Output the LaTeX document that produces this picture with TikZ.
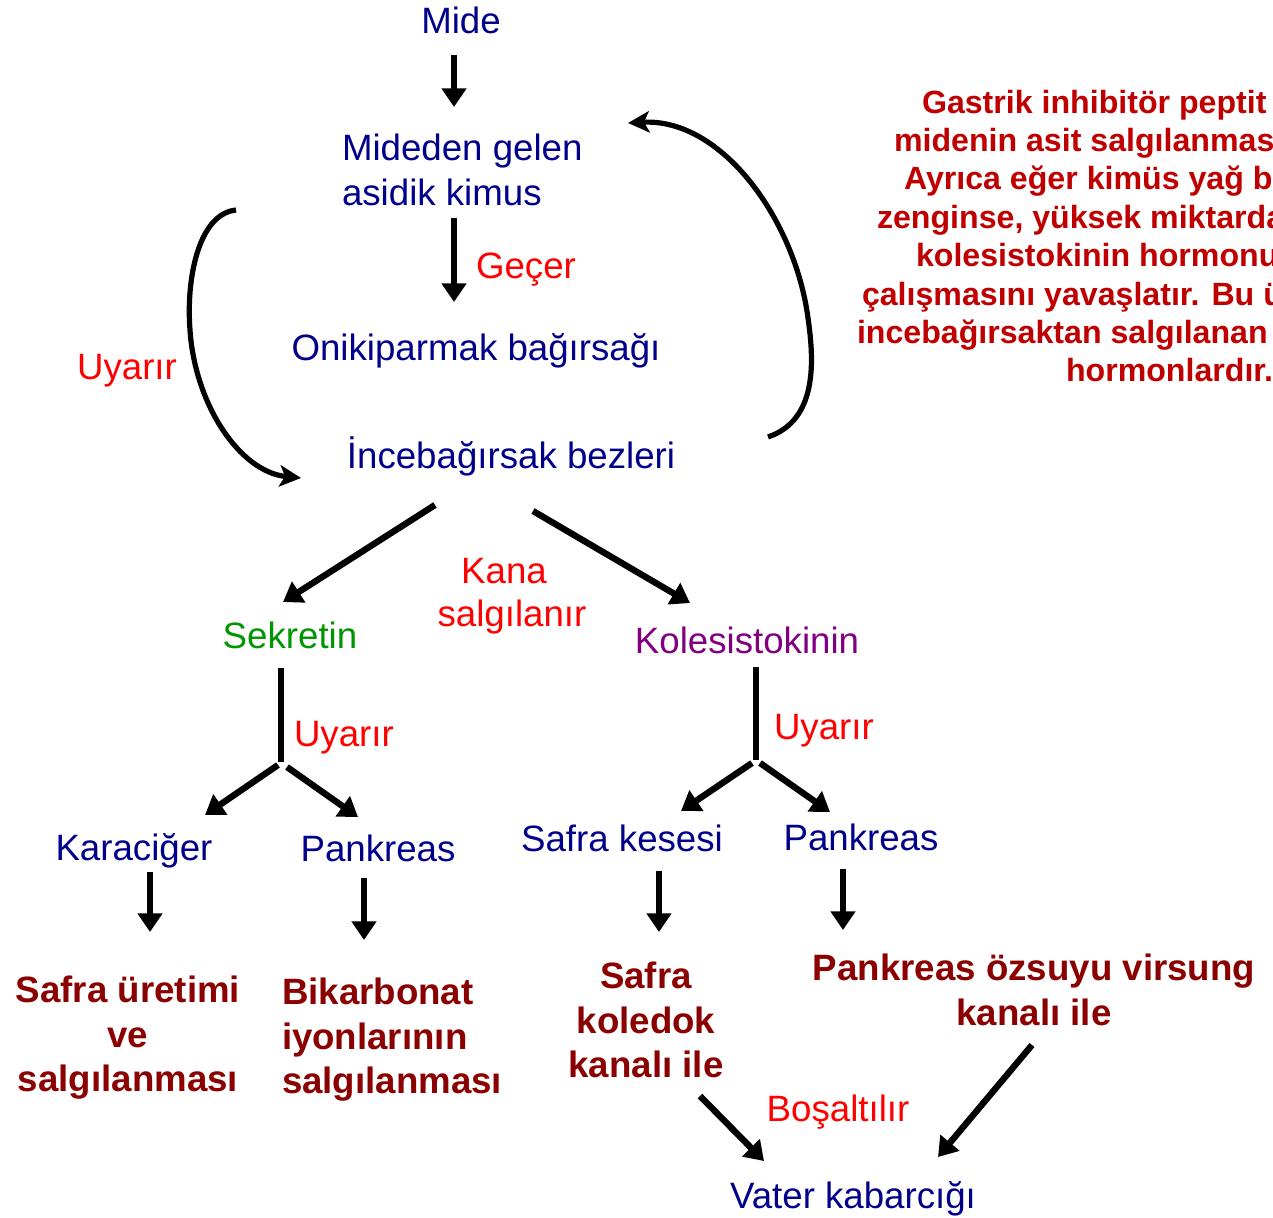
\documentclass[tikz,border=0pt]{standalone}
\usepackage{fontspec}
\setmainfont{Liberation Sans}
\usetikzlibrary{arrows.meta}
\definecolor{navy}{RGB}{0,0,139}
\definecolor{lblred}{RGB}{255,0,0}
\definecolor{dred}{RGB}{139,0,0}
\definecolor{blockred}{RGB}{192,0,0}
\definecolor{sgreen}{RGB}{0,150,0}
\definecolor{kpurple}{RGB}{128,0,128}
\begin{document}
\begin{tikzpicture}[x=0.75pt,y=-0.75pt,
 every node/.style={inner sep=0pt, outer sep=0pt},
 bl/.style={text=navy, font=\fontsize{27.5}{33.75}\selectfont},
 lbl/.style={text=lblred, font=\fontsize{27.5}{32.5}\selectfont},
 res/.style={text=dred, font=\bfseries\fontsize{27.5}{33.5}\selectfont, align=center},
 blk/.style={text=blockred, font=\bfseries\fontsize{24.1}{28}\selectfont, anchor=base west},
 arr/.style={line width=4.8pt, -{Triangle[length=14pt,width=18pt]}},
 curv/.style={line width=3.9pt, -{Stealth[length=16pt,width=16pt,inset=4pt]}},
]
\useasboundingbox (0,0) rectangle (1273,1217);
\clip (0,0) rectangle (1273,1217);

% main nodes
\node[bl, anchor=base] (mide) at (461,33) {Mide};
\node[bl, anchor=north west, align=left] (mideden) at (342,134) {Mideden gelen\\asidik kimus};
\node[lbl, anchor=base west] (gecer) at (476,278) {Geçer};
\node[bl, anchor=base] (oniki) at (476,360) {Onikiparmak bağırsağı};
\node[bl, anchor=base] (ince) at (511,468) {İncebağırsak bezleri};
\node[lbl, anchor=base] (uyarir0) at (127,379) {Uyarır};
\node[lbl, anchor=north, align=center] (kana) at (512,558) {Kana\hspace*{12pt}\\salgılanır};
\node[text=sgreen, font=\fontsize{27.5}{33}\selectfont, anchor=base] (sekretin) at (290,648) {Sekretin};
\node[text=kpurple, font=\fontsize{27.5}{33}\selectfont, anchor=base] (koles) at (747,653) {Kolesistokinin};
\node[lbl, anchor=base west] (uyarir1) at (294,746) {Uyarır};
\node[lbl, anchor=base west] (uyarir2) at (774,739) {Uyarır};
\node[bl, anchor=base] (karaciger) at (134,860) {Karaciğer};
\node[bl, anchor=base] (pank1) at (378,861) {Pankreas};
\node[bl, anchor=base] (kesesi) at (622,851) {Safra kesesi};
\node[bl, anchor=base] (pank2) at (861,850) {Pankreas};
\node[res, anchor=north] (uretim) at (128,976) {Safra üretimi\\ve\\salgılanması};
\node[res, anchor=north west, align=left] (bikarb) at (282,978) {Bikarbonat\\iyonlarının\\salgılanması};
\node[res, anchor=north] (koledok) at (646,962) {Safra\\koledok\\kanalı ile};
\node[res, anchor=north] (ozsuyu) at (1034,954) {Pankreas özsuyu virsung\\kanalı ile};
\node[lbl, anchor=base] (bosalt) at (838,1121) {Boşaltılır};
\node[bl, anchor=base] (vater) at (853,1208) {Vater kabarcığı};

% right text block (cut by the picture edge, as in the reference)
\node[blk] (b1) at (922,113) {Gastrik inhibitör peptit};
\node[blk] (b2) at (894,151.4) {midenin asit salgılanmasını};
\node[blk] (b3) at (904,189.8) {Ayrıca eğer kimüs yağ bakımından};
\node[blk] (b4) at (877,228.2) {zenginse, yüksek miktarda};
\node[blk] (b5) at (916,266.6) {kolesistokinin hormonu};
\node[blk] (b6) at (862,305) {çalışmasını yavaşlatır. Bu üç};
\node[blk] (b7) at (857,343.4) {incebağırsaktan salgılanan};
\node[blk] (b8) at (1066,381.8) {hormonlardır.};

% connector ends
\coordinate (a1s) at (454,55);   \coordinate (a1e) at (454,107);
\coordinate (a2s) at (454,218);  \coordinate (a2e) at (454,302);
\coordinate (cls) at (236,210);  \coordinate (cle) at (301,478);
\coordinate (crs) at (768,437);  \coordinate (cre) at (628,123);
\coordinate (a3s) at (435,505);  \coordinate (a3e) at (283,602);
\coordinate (a4s) at (533,511);  \coordinate (a4e) at (690,603);
\coordinate (sks) at (281,668);  \coordinate (ske) at (281,762);
\coordinate (s1s) at (278,765);  \coordinate (s1e) at (205,815);
\coordinate (s2s) at (287,767);  \coordinate (s2e) at (358,817);
\coordinate (kls) at (756,667);  \coordinate (kle) at (756,760);
\coordinate (k1s) at (752,763);  \coordinate (k1e) at (681,811);
\coordinate (k2s) at (760,763);  \coordinate (k2e) at (830,812);
\coordinate (d1s) at (150,872);  \coordinate (d1e) at (150,932);
\coordinate (d2s) at (364,878);  \coordinate (d2e) at (364,940);
\coordinate (d3s) at (659,871);  \coordinate (d3e) at (659,932);
\coordinate (d4s) at (843,869);  \coordinate (d4e) at (843,930);
\coordinate (v1s) at (700,1096); \coordinate (v1e) at (764,1161);
\coordinate (v2s) at (1032,1045);\coordinate (v2e) at (938,1157);

% connectors
\draw[arr] (a1s) -- (a1e);
\draw[arr] (a2s) -- (a2e);
\draw[curv] (cls) .. controls (198,214) and (186,280) .. (190,330) .. controls (195,405) and (240,472) .. (cle);
\draw[curv] (crs) .. controls (818,420) and (814,360) .. (808,318) .. controls (795,220) and (722,118) .. (cre);
\draw[arr] (a3s) -- (a3e);
\draw[arr] (a4s) -- (a4e);
\draw[line width=4.8pt] (sks) -- (ske);
\draw[arr] (s1s) -- (s1e);
\draw[arr] (s2s) -- (s2e);
\draw[line width=4.8pt] (kls) -- (kle);
\draw[arr] (k1s) -- (k1e);
\draw[arr] (k2s) -- (k2e);
\draw[arr] (d1s) -- (d1e);
\draw[arr] (d2s) -- (d2e);
\draw[arr] (d3s) -- (d3e);
\draw[arr] (d4s) -- (d4e);
\draw[arr] (v1s) -- (v1e);
\draw[arr] (v2s) -- (v2e);
\end{tikzpicture}
\end{document}
